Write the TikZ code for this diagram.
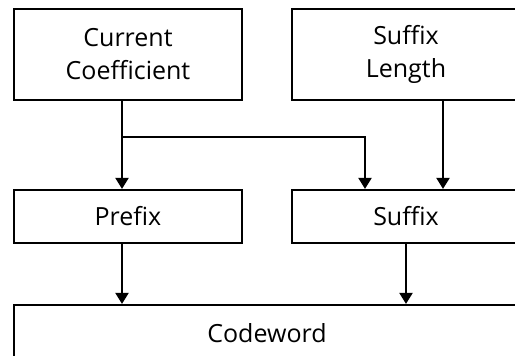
\documentclass[tikz,border=0pt]{standalone}
\usepackage{fontspec}
\setmainfont{Open Sans}
\usetikzlibrary{arrows.meta}
\begin{document}
\begin{tikzpicture}[x=1pt,y=-1pt,
  blk/.style={draw=black,line width=2.2pt,rectangle,inner sep=0pt,align=center,
    font=\fontsize{25}{33}\selectfont},
  flow/.style={line width=2.2pt,-{Triangle[width=13pt,length=11pt]}}]
\useasboundingbox (0,0) rectangle (515,356);
\begin{scope}
\clip (0,0) rectangle (515,356);
\node[blk,minimum width=228pt,minimum height=91pt] (cc) at (128,54.5) {Current\\Coefficient};
\node[blk,minimum width=228pt,minimum height=91pt] (sl) at (406,54.5) {Suffix\\Length};
\node[blk,minimum width=228pt,minimum height=53pt] (pre) at (128,216.5) {Prefix};
\node[blk,minimum width=228pt,minimum height=53pt] (suf) at (406,216.5) {Suffix};
\node[blk,minimum width=506pt,minimum height=56pt] (cw) at (267,333) {Codeword};
\coordinate (xa) at (122,0);
\coordinate (xb) at (365,137);
\coordinate (xc) at (443,0);
\coordinate (xd) at (406,0);
\draw[flow] (cc.south -| xa) -- (pre.north -| xa);
\draw[flow] (xa |- xb) -- (xb) -- (suf.north -| xb);
\draw[flow] (sl.south -| xc) -- (suf.north -| xc);
\draw[flow] (pre.south -| xa) -- (cw.north -| xa);
\draw[flow] (suf.south -| xd) -- (cw.north -| xd);
\end{scope}
\end{tikzpicture}
\end{document}
